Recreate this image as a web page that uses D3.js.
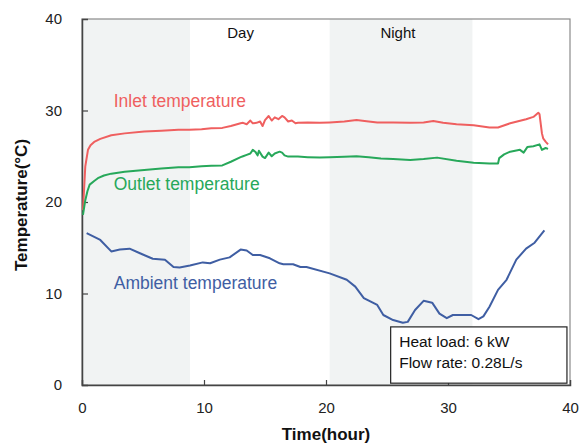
<!DOCTYPE html>
<html><head><meta charset="utf-8">
<script src="https://cdn.jsdelivr.net/npm/d3@7"></script>
<style>body{margin:0;background:#fff;} svg{display:block;font-family:"Liberation Sans",Arial,sans-serif;}</style>
</head><body>
<svg id="c" width="579" height="444"></svg>
<script>
const xTicks = [0, 10, 20, 30, 40];
const yTicks = [0, 10, 20, 30, 40];
const shadeBands = [[0, 8.85], [20.3, 32.0]];
const inletT = [0.08,0.27,0.49,0.7,1.04,1.5,2.4,3.5,5.1,6.5,7.9,8.8,9.8,10.6,11.5,12.2,13.0,13.2,13.5,13.8,14.0,14.3,14.6,14.8,15.0,15.3,15.55,15.8,16.1,16.4,16.6,16.9,17.2,17.5,17.7,18.5,19.5,20.3,21.5,22.5,23.5,24.2,25.5,26.9,28.0,28.8,29.6,30.7,32.1,33.4,34.1,35.1,36.4,37.0,37.4,37.5,37.7,37.8,38.0,38.2];
const inletV = [19.1,23.9,25.7,26.2,26.6,26.9,27.3,27.5,27.7,27.8,27.9,27.9,27.95,28.05,28.1,28.3,28.6,28.65,28.5,28.9,28.6,28.65,28.8,28.3,28.95,29.4,28.9,29.25,29.05,29.4,29.25,28.8,28.9,28.6,28.65,28.7,28.65,28.7,28.8,28.95,28.8,28.7,28.7,28.65,28.7,28.85,28.65,28.5,28.4,28.15,28.15,28.6,29.05,29.3,29.75,29.6,27.5,26.96,26.6,26.3];
const outletT = [0.08,0.27,0.45,0.63,1.0,1.3,1.8,2.4,3.5,5.1,6.5,7.9,8.8,9.8,10.6,11.5,12.2,13.0,13.2,13.5,13.8,14.0,14.2,14.4,14.5,14.8,15.0,15.3,15.55,15.8,16.2,16.4,16.6,16.9,17.3,17.7,18.5,19.5,20.3,21.5,22.5,23.5,24.5,25.5,26.9,28.0,29.1,30.7,32.1,33.4,34.1,34.2,34.6,35.1,35.5,35.9,36.2,36.5,37.0,37.5,37.7,38.0,38.2];
const outletV = [18.6,20.2,21.2,21.9,22.3,22.6,22.9,23.1,23.3,23.5,23.65,23.8,23.8,23.9,23.97,24.0,24.4,24.9,25.0,25.15,25.3,25.7,25.5,25.1,25.6,24.96,24.8,25.4,25.0,25.3,25.5,25.4,25.1,24.96,24.96,24.96,24.9,24.85,24.9,24.95,25.0,24.9,24.75,24.7,24.6,24.7,24.85,24.5,24.3,24.2,24.2,24.8,25.2,25.5,25.6,25.7,25.4,26.0,26.1,26.3,25.7,25.9,25.8];
const ambientT = [0.38,1.5,2.4,3.1,3.9,4.75,5.8,6.8,7.5,8.0,8.85,9.9,10.5,11.3,12.1,13.0,13.5,14.0,14.6,15.4,16.2,16.5,17.3,17.9,18.4,20.3,21.7,22.4,23.1,24.2,24.7,25.5,26.3,26.7,27.3,28.0,28.7,29.3,29.9,30.4,31.1,31.9,32.5,32.9,33.4,34.1,34.8,35.6,36.4,37.1,37.9];
const ambientV = [16.6,15.85,14.6,14.8,14.9,14.4,13.8,13.7,12.9,12.85,13.05,13.4,13.3,13.7,13.95,14.8,14.7,14.2,14.2,13.85,13.3,13.2,13.2,12.9,12.9,12.2,11.5,10.75,9.5,8.75,7.65,7.1,6.8,6.9,8.2,9.2,9.0,7.8,7.3,7.65,7.65,7.65,7.2,7.5,8.55,10.4,11.5,13.7,14.9,15.55,16.9];
const seriesNames = ["Inlet temperature", "Outlet temperature", "Ambient temperature"];
const seriesColors = ["#ef5f5f", "#27a85a", "#3f5ea3"];
const periodLabels = ["Day", "Night"];
const boxLines = ["Heat load: 6 kW", "Flow rate: 0.28L/s"];

const svg = d3.select("#c");
const L = 82, R = 570, T = 19, B = 385;
const x = d3.scaleLinear().domain([0, 40]).range([L, R]);
const y = d3.scaleLinear().domain([0, 40]).range([B, T]);

svg.selectAll("rect.band").data(shadeBands).enter().append("rect")
  .attr("x", d => x(d[0])).attr("width", d => x(d[1]) - x(d[0]))
  .attr("y", T).attr("height", B - T).attr("fill", "#f1f3f3");

svg.append("rect").attr("x", L).attr("y", T).attr("width", R - L).attr("height", B - T)
  .attr("fill", "none").attr("stroke", "#8a8a8a").attr("stroke-width", 1.2);

const yAxis = svg.append("g").attr("transform", `translate(${L},0)`)
  .call(d3.axisLeft(y).tickValues(yTicks).tickSize(-6).tickPadding(20));
const xAxis = svg.append("g").attr("transform", `translate(0,${B})`)
  .call(d3.axisBottom(x).tickValues(xTicks).tickSize(-5).tickPadding(17));
[yAxis, xAxis].forEach(g => {
  g.select(".domain").attr("stroke", "#444").attr("stroke-width", 1.5);
  g.selectAll(".tick line").attr("stroke", "#444").attr("stroke-width", 1.2);
  g.selectAll(".tick text").attr("font-size", 15).attr("fill", "#222")
    .attr("font-family", '"Liberation Sans",Arial,sans-serif');
});
xAxis.selectAll(".tick").filter(d => d === 0 || d === 40).select("line").remove();
yAxis.selectAll(".tick").filter(d => d === 0 || d === 40).select("line").remove();

const line = d3.line().x(d => x(d[0])).y(d => y(d[1]));
const series = [
  d3.zip(inletT, inletV),
  d3.zip(outletT, outletV),
  d3.zip(ambientT, ambientV)
];
series.forEach((s, i) => {
  svg.append("path").datum(s).attr("d", line).attr("fill", "none")
    .attr("stroke", seriesColors[i]).attr("stroke-width", 2)
    .attr("stroke-linejoin", "round");
});

const labelPos = [[2.6, 30.4], [2.6, 21.3], [2.6, 10.45]];
seriesNames.forEach((n, i) => {
  svg.append("text").attr("x", x(labelPos[i][0])).attr("y", y(labelPos[i][1]))
    .attr("font-size", 17.5).attr("fill", seriesColors[i]).text(n);
});

const periodPos = [13.0, 25.9];
periodLabels.forEach((n, i) => {
  svg.append("text").attr("x", x(periodPos[i])).attr("y", 38)
    .attr("text-anchor", "middle").attr("font-size", 15).attr("fill", "#111").text(n);
});

svg.append("rect").attr("x", x(25.3)).attr("y", y(6.35))
  .attr("width", x(39.75) - x(25.3)).attr("height", y(0.2) - y(6.35))
  .attr("fill", "#fff").attr("stroke", "#222").attr("stroke-width", 1.2);
boxLines.forEach((t, i) => {
  svg.append("text").attr("x", x(26.0)).attr("y", 347 + i * 21)
    .attr("font-size", 15.5).attr("fill", "#111").text(t);
});

svg.append("text").attr("x", (L + R) / 2).attr("y", 440).attr("text-anchor", "middle")
  .attr("font-size", 17).attr("font-weight", "bold").attr("fill", "#111").text("Time(hour)");
svg.append("text").attr("transform", "translate(27,205) rotate(-90)").attr("text-anchor", "middle")
  .attr("font-size", 17).attr("font-weight", "bold").attr("fill", "#111").text("Temperature(°C)");
</script>
</body></html>
